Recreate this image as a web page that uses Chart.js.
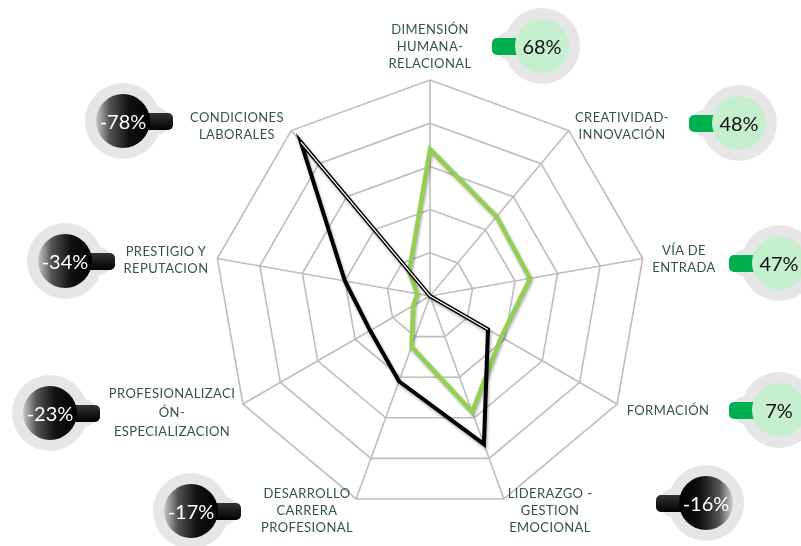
<!DOCTYPE html>
<html lang="es">
<head>
<meta charset="utf-8">
<title>Radar</title>
<script src="https://cdn.jsdelivr.net/npm/chart.js@4.4.1/dist/chart.umd.min.js"></script>
<style>
  html, body { margin: 0; padding: 0; background: #fff; }
  #wrap { position: relative; width: 801px; height: 546px; overflow: hidden; }
  #radar { position: absolute; left: 0; top: 0; }
  .lbl {
    position: absolute; transform: translateX(-50%);
    font-family: Lato, "Open Sans", sans-serif; font-size: 13px;
    letter-spacing: 0.4px; line-height: 17px; color: #325353;
    text-align: center; white-space: nowrap;
  }
  .badge { position: absolute; width: 0; height: 0; }
  .badge div { position: absolute; }
  .halo { width: 76px; height: 76px; left: -38px; top: -38px; border-radius: 50%; background: #e6e6e6; }
  .bump { height: 28px; top: -14px; width: 48px; border-radius: 14px; background: #e6e6e6; }
  .tab { height: 17px; top: -8.5px; width: 30px; border-radius: 5px; }
  .disc {
    width: 54px; height: 54px; left: -27px; top: -27px; border-radius: 50%;
    font-family: Lato, "Open Sans", sans-serif; font-size: 20px; line-height: 54px;
    text-align: center;
  }
</style>
</head>
<body>
<div id="wrap">
  <canvas id="radar" width="801" height="546"></canvas>
</div>
<script>
// categories, clockwise from the top
const categories = [
  ["DIMENSIÓN", "HUMANA-", "RELACIONAL"],
  ["CREATIVIDAD-", "INNOVACIÓN"],
  ["VÍA DE", "ENTRADA"],
  ["FORMACIÓN"],
  ["LIDERAZGO -", "GESTION", "EMOCIONAL"],
  ["DESARROLLO", "CARRERA", "PROFESIONAL"],
  ["PROFESIONALIZACI", "ÓN-", "ESPECIALIZACION"],
  ["PRESTIGIO Y", "REPUTACION"],
  ["CONDICIONES", "LABORALES"]
];

// series values (percent)
const positiveValues = [68, 48, 47, 38, 57, 25, 9, 6, 15];
const negativeValues = [0, 0, 0, 31, 73, 42, 32, 40, 93];

// net value shown in each badge
const netLabels = ["68%", "48%", "47%", "7%", "-16%", "-17%", "-23%", "-34%", "-78%"];

// radial axis
const axisMax = 100;
const axisStep = 20;

// label placement (center x, first line y, line height)
const labelPos = [
  [430, 21, 17], [622, 109, 17], [684, 242, 17], [668, 402, 17],
  [550, 485, 17], [307, 485, 17], [172, 384, 19], [166, 243, 17], [237, 109, 17]
];
// badge placement (center x, center y, tab side)
const badgePos = [
  [542, 46, "L"], [739, 123, "L"], [779, 263, "L"], [779, 410, "L"],
  [706, 503, "L"], [191, 511, "R"], [50, 413, "R"], [65, 261, "R"], [123, 121, "R"]
];

const wrap = document.getElementById("wrap");

// axis labels
categories.forEach(function (lines, i) {
  const d = document.createElement("div");
  d.className = "lbl";
  d.style.left = labelPos[i][0] + "px";
  d.style.top = labelPos[i][1] + "px";
  d.style.lineHeight = labelPos[i][2] + "px";
  d.innerHTML = lines.join("<br>");
  wrap.appendChild(d);
});

// percentage badges
netLabels.forEach(function (txt, i) {
  const [x, y, side] = badgePos[i];
  const negative = txt.charAt(0) === "-";
  const b = document.createElement("div");
  b.className = "badge";
  b.style.left = x + "px";
  b.style.top = y + "px";

  const halo = document.createElement("div");
  halo.className = "halo";
  const bump = document.createElement("div");
  bump.className = "bump";
  bump.style.left = side === "L" ? "-47px" : "-1px";
  const tab = document.createElement("div");
  tab.className = "tab";
  tab.style.left = side === "L" ? "-50px" : "20px";
  tab.style.background = negative
    ? "linear-gradient(to bottom, #333, #000)"
    : "#00b050";
  const disc = document.createElement("div");
  disc.className = "disc";
  disc.textContent = txt;
  if (negative) {
    disc.style.color = "#fff";
    disc.style.background = side === "L"
      ? "linear-gradient(to right, #000 0%, #111 40%, #555 75%, #d0d0d0 100%)"
      : "linear-gradient(to left, #000 0%, #111 40%, #555 75%, #c8c8c8 100%)";
  } else {
    disc.style.color = "#111";
    disc.style.background = "#c6efce";
  }
  b.appendChild(halo);
  b.appendChild(bump);
  b.appendChild(tab);
  b.appendChild(disc);
  wrap.appendChild(b);
});

// soft shadow under the two main lines
const lineShadow = {
  id: "lineShadow",
  beforeDatasetDraw(chart, args) {
    if (args.index === 0) return;
    const ctx = chart.ctx;
    ctx.save();
    ctx.shadowColor = "rgba(0,0,0,0.35)";
    ctx.shadowBlur = 3;
    ctx.shadowOffsetX = 1;
    ctx.shadowOffsetY = 2;
  },
  afterDatasetDraw(chart, args) {
    if (args.index === 0) return;
    chart.ctx.restore();
  }
};

// white core on the segments that pass through the centre
const coreValues = negativeValues.map(function (v, i) {
  const prev = negativeValues[(i + negativeValues.length - 1) % negativeValues.length];
  const next = negativeValues[(i + 1) % negativeValues.length];
  return v === 0 || prev === 0 || next === 0 ? v : null;
});

const ctx = document.getElementById("radar").getContext("2d");
new Chart(ctx, {
  type: "radar",
  data: {
    labels: categories.map(function (l) { return l.join(" "); }),
    datasets: [
      {
        label: "core",
        data: coreValues,
        borderColor: "#ffffff",
        borderWidth: 1.2,
        fill: false,
        pointRadius: 0,
        spanGaps: false
      },
      {
        label: "Negativo",
        data: negativeValues,
        borderColor: "#000000",
        borderWidth: 4,
        fill: false,
        pointRadius: 0
      },
      {
        label: "Positivo",
        data: positiveValues,
        borderColor: "#92d050",
        borderWidth: 4.3,
        fill: false,
        pointRadius: 0
      }
    ]
  },
  options: {
    responsive: false,
    animation: false,
    layout: { padding: { left: 214, top: 80, right: 155, bottom: 34 } },
    plugins: { legend: { display: false }, tooltip: { enabled: false } },
    elements: { line: { tension: 0, borderJoinStyle: "miter" } },
    scales: {
      r: {
        min: 0,
        max: axisMax,
        ticks: { stepSize: axisStep, display: false },
        grid: { color: "#bdbdbd", lineWidth: 1.6 },
        angleLines: { color: "#bdbdbd", lineWidth: 1.6 },
        pointLabels: { display: false }
      }
    }
  },
  plugins: [lineShadow]
});
</script>
</body>
</html>
